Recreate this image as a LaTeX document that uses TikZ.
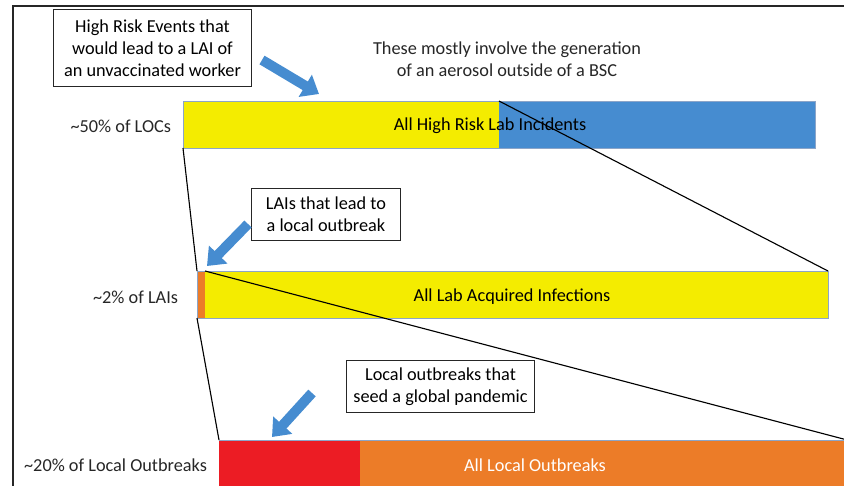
\documentclass[tikz,border=0pt]{standalone}
\usepackage{fontspec}
\setmainfont{Carlito}
\usetikzlibrary{arrows.meta}
\definecolor{riskyellow}{RGB}{244,236,0}
\definecolor{riskblue}{RGB}{70,140,208}
\definecolor{riskorange}{RGB}{236,124,40}
\definecolor{riskred}{RGB}{236,28,36}
\definecolor{edgeblue}{RGB}{140,165,200}
\definecolor{inkgray}{RGB}{38,38,38}
\newcommand{\segment}[5] % x start, x end, y top, y bottom, colour
{
	\fill[#5] (#1,#3) rectangle (#2,#4);
}
\newcommand{\bluearrow}[2] % tail, tip
{
	\draw[riskblue, line width=0.25cm, -{Triangle[width=0.62cm, length=0.4cm]}] (#1) -- (#2);
}
\tikzset{
	note/.style={draw=inkgray, line width=0.7pt, fill=white, align=center, inner sep=2pt},
	rowlabel/.style={anchor=east, text=inkgray}
}

\begin{document}
\begin{tikzpicture}[x=0.025cm, y=-0.025cm, font=\fontsize{13}{15.6}\selectfont]
	% 844 x 486 px, one unit = one pixel
	\useasboundingbox (0,0) rectangle (844,486);
	\clip (0,0) rectangle (844,486);
	
	% frame
	\draw[line width=1.4pt, inkgray] (13,500) -- (13,6) -- (860,6);
	
	% high risk lab incidents
	\segment{183}{499}{101}{148}{riskyellow}
	\segment{499}{815}{101}{148}{riskblue}
	\draw[edgeblue, line width=0.6pt] (183,101) rectangle (815,148);
	\node (hr-text) at (490,126) {All High Risk Lab Incidents};
	\node[rowlabel] (hr-label) at (176,126) {\textasciitilde50\% of LOCs};
	
	% lab acquired infections
	\segment{197}{205}{271}{318}{riskorange}
	\segment{205}{828}{271}{318}{riskyellow}
	\draw[edgeblue, line width=0.6pt] (197,271) rectangle (828,318);
	\node (lai-text) at (512,297) {All Lab Acquired Infections};
	\node[rowlabel] (lai-label) at (183,297) {\textasciitilde2\% of LAIs};
	
	% local outbreaks
	\segment{219}{360}{440}{500}{riskred}
	\segment{360}{860}{440}{500}{riskorange}
	\draw[edgeblue, line width=0.6pt] (219,440) -- (860,440);
	\node[text=white] (lo-text) at (535,465) {All Local Outbreaks};
	\node[rowlabel] (lo-label) at (212,465) {\textasciitilde20\% of Local Outbreaks};
	
	% corners for the zoom lines
	\coordinate (hr-sw) at (183,148);
	\coordinate (hr-split) at (499,101);
	\coordinate (lai-nw) at (197,271);
	\coordinate (lai-ne) at (828,271);
	\coordinate (lai-sw) at (197,318);
	\coordinate (lai-split) at (205,271);
	\coordinate (lo-nw) at (219,440);
	\coordinate (lo-ne) at (851,441);
	
	\draw[line width=0.8pt] (hr-sw) -- (lai-nw);
	\draw[line width=0.8pt] (hr-split) -- (lai-ne);
	\draw[line width=0.8pt] (lai-sw) -- (lo-nw);
	\draw[line width=0.8pt] (lai-split) -- (lo-ne);
	
	% notes
	\node[note, minimum width=4.95cm, minimum height=1.9cm] (hr-note) at (152.5,48)
		{High Risk Events that\\would lead to a LAI of\\an unvaccinated worker};
	\node[note, minimum width=3.7cm, minimum height=1.32cm] (lai-note) at (326,214.5)
		{LAIs that lead to\\a local outbreak};
	\node[note, minimum width=4.72cm, minimum height=1.32cm] (lo-note) at (440.5,386.5)
		{Local outbreaks that\\seed a global pandemic};
	\node[align=center, text=inkgray] (aerosol) at (507,59)
		{These mostly involve the generation\\of an aerosol outside of a BSC};
	
	% pointers
	\coordinate (a1-tail) at (262,60);
	\coordinate (a1-tip) at (319,94);
	\coordinate (a2-tail) at (248,224);
	\coordinate (a2-tip) at (207,266);
	\coordinate (a3-tail) at (312,393);
	\coordinate (a3-tip) at (272,437);
	\bluearrow{a1-tail}{a1-tip}
	\bluearrow{a2-tail}{a2-tip}
	\bluearrow{a3-tail}{a3-tip}
	
\end{tikzpicture}
\end{document}
